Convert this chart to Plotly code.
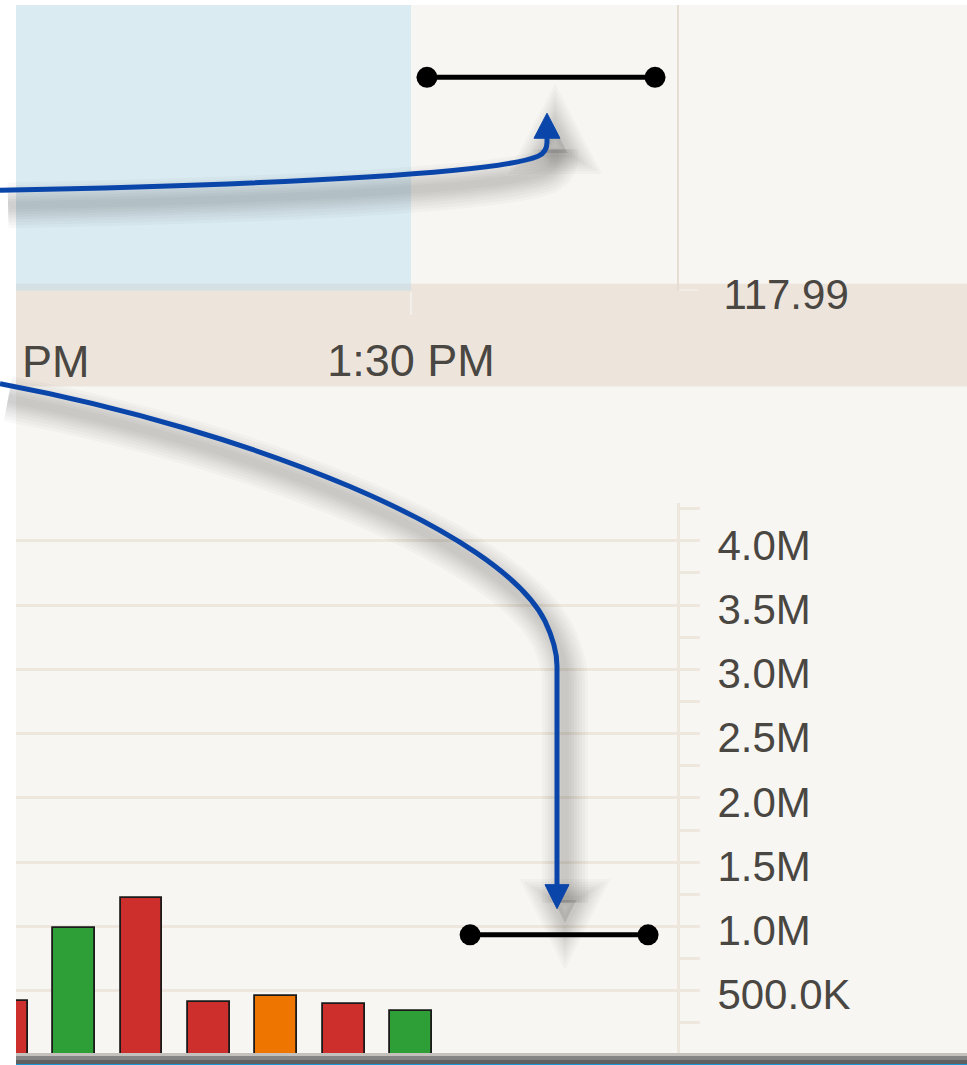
import plotly.graph_objects as go

W, H = 967, 1065          # reference frame (paper fractions are computed from it)
FIG_H = 1094              # rendered figure height (the page photo is squeezed vertically)

# ---------------- data ----------------
bar_times = ["2024-01-02 13:00", "2024-01-02 13:05", "2024-01-02 13:10", "2024-01-02 13:15",
             "2024-01-02 13:20", "2024-01-02 13:25", "2024-01-02 13:30"]
volumes = [420000, 990000, 1220000, 410000, 460000, 400000, 340000]
bar_dirs = ["down", "up", "down", "down", "flat", "down", "up"]

x_tick_vals = ["2024-01-02 13:30"]
x_tick_text = ["1:30 PM"]
clipped_tick_text = "PM"   # visible part of the "1:00 PM" label cut by the left edge

vol_tick_vals = [500000, 1000000, 1500000, 2000000, 2500000, 3000000, 3500000, 4000000]
vol_tick_text = ["500.0K", "1.0M", "1.5M", "2.0M", "2.5M", "3.0M", "3.5M", "4.0M"]
vol_minor_vals = [250000, 750000, 1250000, 1750000, 2250000, 2750000, 3250000, 3750000, 4250000]

price_tick_vals = [117.99]
price_tick_text = ["117.99"]

shade_end = "2024-01-02 13:30"
top_marker_times = ["2024-01-02 13:31:11", "2024-01-02 13:48:06"]
top_marker_prices = [118.184, 118.184]
bot_marker_times = ["2024-01-02 13:34:23", "2024-01-02 13:47:35"]
bot_marker_vols = [935000, 935000]

x_range = ["2024-01-02 12:59:30.6", "2024-01-02 13:49:43.8"]
price_range = [117.9895, 118.25]
vol_range = [0, 4295000]

# ---------------- styles ----------------
dir_colors = {"down": "#CD2F2D", "up": "#2E9E36", "flat": "#EE7600"}
FONT = "Liberation Sans, Arial, sans-serif"
TXT = "#4A4642"
K = FIG_H / H  # vertical pixel factor


def py(y):
    return 1 - y / H


def px(x):
    return x / W


def pt(x, y):
    return f"{px(x):.5f},{py(y):.5f}"


fig = go.Figure()

fig.add_trace(go.Bar(
    x=bar_times, y=volumes, xaxis="x2", yaxis="y2",
    width=186000,
    marker=dict(color=[dir_colors[d] for d in bar_dirs], line=dict(color="#1a1a1a", width=1.8)),
    hoverinfo="skip", showlegend=False,
))

fig.add_trace(go.Scatter(
    x=top_marker_times, y=top_marker_prices, xaxis="x", yaxis="y",
    mode="lines+markers", line=dict(color="black", width=5),
    marker=dict(size=21, color="black"), showlegend=False, hoverinfo="skip",
))
fig.add_trace(go.Scatter(
    x=bot_marker_times, y=bot_marker_vols, xaxis="x2", yaxis="y2",
    mode="lines+markers", line=dict(color="black", width=5),
    marker=dict(size=21, color="black"), showlegend=False, hoverinfo="skip",
))

shapes = []


def prect(x0, y0, x1, y1, color, layer="below"):
    shapes.append(dict(type="rect", xref="paper", yref="paper",
                       x0=px(x0), x1=px(x1), y0=py(y1), y1=py(y0),
                       fillcolor=color, line=dict(width=0), layer=layer))


# panel backgrounds
prect(16, 5, W, 283, "#F7F6F2")
prect(16, 283, W, 386, "#EDE5DC")
prect(16, 386, W, 1053, "#F7F6F2")
# highlighted region
shapes.append(dict(type="rect", xref="x", yref="paper", x0=x_range[0], x1=shade_end,
                   y0=py(290), y1=py(5), fillcolor="rgba(170,215,242,0.36)",
                   line=dict(width=0), layer="below"))
# white frame
prect(0, 0, 16, H, "white", "above")
prect(0, 0, W, 5, "white", "above")
# bottom stripe
prect(16, 1051, W, 1054, "#C4C0BC", "above")
prect(16, 1054, W, 1058, "#848484", "above")
prect(16, 1058, W, 1062, "#606060", "above")
prect(16, 1062, W, H, "#1A96D4", "above")

# arrows (pixel paths)
arrow1 = [("M", [(0, 190)]), ("C", [(300, 184), (500, 172), (538, 156)]),
          ("Q", [(547, 152), (547, 142)]), ("L", [(547, 134)])]
head1 = [(534, 138), (560, 138), (547, 113)]
arrow2 = [("M", [(0, 383)]), ("C", [(250, 430), (500, 530), (545, 620)]),
          ("Q", [(557, 645), (557, 665)]), ("L", [(557, 886)])]
head2 = [(545, 883), (569, 883), (557, 907)]


def path_str(segs, dx=0, dy=0):
    s = ""
    for cmd, pts in segs:
        s += cmd + " " + " ".join(pt(x + dx, y + dy) for x, y in pts) + " "
    return s.strip()


def head_str(pts, dx=0, dy=0):
    return "M " + " L ".join(pt(x + dx, y + dy) for x, y in pts) + " Z"


BLUE = "#0A45AA"
for segs, head in [(arrow1, head1), (arrow2, head2)]:
    dx, dy = 8, 15
    for w in [46, 40, 34, 28, 23, 18, 13, 8]:
        op = 0.022
        shapes.append(dict(type="path", xref="paper", yref="paper", path=path_str(segs, dx, dy),
                           line=dict(color=f"rgba(0,0,0,{op})", width=w), layer="above"))
        shapes.append(dict(type="path", xref="paper", yref="paper", path=head_str(head, dx, dy),
                           fillcolor="rgba(0,0,0,0.012)",
                           line=dict(color=f"rgba(0,0,0,{op})", width=w * 0.9), layer="above"))
for segs, head in [(arrow1, head1), (arrow2, head2)]:
    shapes.append(dict(type="path", xref="paper", yref="paper", path=path_str(segs),
                       line=dict(color=BLUE, width=5), layer="above"))
    shapes.append(dict(type="path", xref="paper", yref="paper", path=head_str(head),
                       fillcolor=BLUE, line=dict(color=BLUE, width=1), layer="above"))

xdom = [0, 677 / W]

fig.update_layout(
    width=W, height=FIG_H, margin=dict(l=0, r=0, t=0, b=0),
    paper_bgcolor="white", plot_bgcolor="rgba(0,0,0,0)",
    font=dict(family=FONT, color=TXT),
    showlegend=False, bargap=0,
    shapes=shapes,
    annotations=[dict(text=clipped_tick_text, xref="paper", yref="paper",
                      x=px(20), y=py(361), xanchor="left", yanchor="middle",
                      showarrow=False, font=dict(size=45, color=TXT, family=FONT))],
    xaxis=dict(domain=xdom, anchor="y", type="date", range=x_range,
               tickmode="array", tickvals=x_tick_vals, ticktext=x_tick_text,
               ticks="outside", ticklen=round(22 * K), tickwidth=2, tickcolor="#F3EFEA",
               tickfont=dict(size=45, color=TXT, family=FONT), ticklabelstandoff=7,
               showgrid=False, zeroline=False, showline=False, fixedrange=True),
    yaxis=dict(domain=[py(290), py(5)], anchor="x", side="right", range=price_range,
               tickmode="array", tickvals=price_tick_vals, ticktext=price_tick_text,
               ticks="outside", ticklen=20, tickwidth=2, tickcolor="#F1ECE5",
               tickfont=dict(size=42, color=TXT, family=FONT), ticklabelstandoff=16,
               ticklabelshift=4,
               showgrid=False, zeroline=False, showline=True, linecolor="#E6DED2", linewidth=2,
               fixedrange=True),
    xaxis2=dict(domain=xdom, anchor="y2", type="date", range=x_range, matches="x",
                showticklabels=False, ticks="", showgrid=False, zeroline=False, showline=False,
                fixedrange=True),
    yaxis2=dict(domain=[py(1053), py(502)], anchor="x2", side="right", range=vol_range,
                tickmode="array", tickvals=vol_tick_vals, ticktext=vol_tick_text,
                ticks="outside", ticklen=20, tickwidth=3, tickcolor="#EEE7DD",
                tickfont=dict(size=42, color=TXT, family=FONT), ticklabelstandoff=9,
                ticklabelshift=4,
                minor=dict(tickmode="array", tickvals=vol_minor_vals, ticks="outside",
                           ticklen=20, tickwidth=3, tickcolor="#EEE7DD", showgrid=False),
                showgrid=True, gridcolor="#EEE7DD", gridwidth=3,
                zeroline=False, showline=True, linecolor="#EEE7DD", linewidth=3,
                fixedrange=True),
)

reset_js = "document.documentElement.style.margin='0';document.body.style.margin='0';"
fig.write_html("out.html", config={"displayModeBar": False}, post_script=reset_js)
